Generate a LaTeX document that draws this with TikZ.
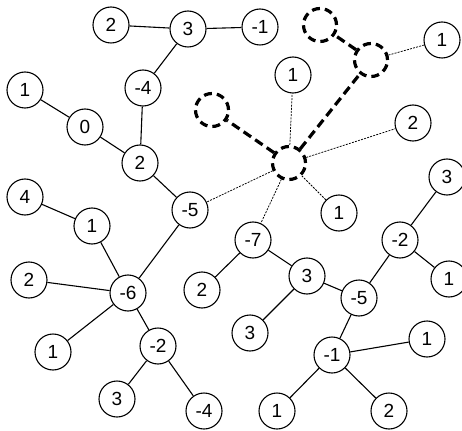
\documentclass[tikz,border=0pt]{standalone}
\usepackage{fontspec}
\setmainfont{Liberation Sans}
\begin{document}
\begin{tikzpicture}[x=1pt,y=-1pt,
  nd/.style={circle,draw,line width=1.1pt,minimum size=36pt,inner sep=0pt,fill=white,font=\fontsize{19}{19}\selectfont},
  hole/.style={circle,draw,line width=3.2pt,dash pattern=on 8pt off 5pt,minimum size=33pt,inner sep=0pt,fill=white},
  ln/.style={line width=1.1pt},
  thin dot/.style={line width=0.75pt,dash pattern=on 2pt off 1.2pt},
  thick dash/.style={line width=3.2pt,dash pattern=on 9pt off 5pt}]
\useasboundingbox (0,0) rectangle (462,430);
% left tree
\node[nd] (a2) at (111,25) {2};
\node[nd] (a3) at (188,29) {3};
\node[nd] (am1) at (260,27) {-1};
\node[nd] (am4) at (143,88) {-4};
\node[nd] (a1) at (25,90) {1};
\node[nd] (a0) at (85,127) {0};
\node[nd] (b2) at (140,163) {2};
\node[nd] (bm5) at (190,210) {-5};
\node[nd] (c4) at (25,197) {4};
\node[nd] (c1) at (92,226) {1};
\node[nd] (c2) at (29,280) {2};
\node[nd] (cm6) at (128,293) {-6};
\node[nd] (c1b) at (53,352) {1};
\node[nd] (cm2) at (158,346) {-2};
\node[nd] (c3) at (117,399) {3};
\node[nd] (cm4) at (204,411) {-4};
% center star
\node[hole] (ctr) at (289,163) {};
\node[hole] (hl) at (212,110) {};
\node[hole] (hm) at (371,60) {};
\node[hole] (ht) at (320,25) {};
\node[nd] (d1t) at (442,40) {1};
\node[nd] (d1m) at (293,75) {1};
\node[nd] (d2) at (413,123) {2};
\node[nd] (d1b) at (339,213) {1};
% right tree
\node[nd] (em7) at (253,240) {-7};
\node[nd] (e2) at (202,290) {2};
\node[nd] (e3) at (307,276) {3};
\node[nd] (e3b) at (250,333) {3};
\node[nd] (em5) at (359,298) {-5};
\node[nd] (em2) at (400,240) {-2};
\node[nd] (e3r) at (447,177) {3};
\node[nd] (e1r) at (449,279) {1};
\node[nd] (em1) at (332,355) {-1};
\node[nd] (e1lr) at (427,339) {1};
\node[nd] (e1b) at (277,411) {1};
\node[nd] (e2b) at (389,411) {2};
% solid edges
\draw[ln] (a2) -- (a3);
\draw[ln] (a3) -- (am1);
\draw[ln] (a3) -- (am4);
\draw[ln] (am4) -- (b2);
\draw[ln] (a1) -- (a0);
\draw[ln] (a0) -- (b2);
\draw[ln] (b2) -- (bm5);
\draw[ln] (bm5) -- (cm6);
\draw[ln] (c4) -- (c1);
\draw[ln] (c1) -- (cm6);
\draw[ln] (c2) -- (cm6);
\draw[ln] (c1b) -- (cm6);
\draw[ln] (cm6) -- (cm2);
\draw[ln] (cm2) -- (c3);
\draw[ln] (cm2) -- (cm4);
\draw[ln] (em7) -- (e2);
\draw[ln] (em7) -- (e3);
\draw[ln] (e3) -- (e3b);
\draw[ln] (e3) -- (em5);
\draw[ln] (em5) -- (em2);
\draw[ln] (em2) -- (e3r);
\draw[ln] (em2) -- (e1r);
\draw[ln] (em5) -- (em1);
\draw[ln] (em1) -- (e1lr);
\draw[ln] (em1) -- (e1b);
\draw[ln] (em1) -- (e2b);
% dotted edges
\draw[thin dot] (ctr) -- (d1m);
\draw[thin dot] (ctr) -- (d2);
\draw[thin dot] (ctr) -- (d1b);
\draw[thin dot] (ctr) -- (em7);
\draw[thin dot] (ctr) -- (bm5);
\draw[thin dot] (hm) -- (d1t);
% thick dashed edges
\draw[thick dash] (ctr) -- (hl);
\draw[thick dash] (ctr) -- (hm);
\draw[thick dash] (hm) -- (ht);
\end{tikzpicture}
\end{document}
